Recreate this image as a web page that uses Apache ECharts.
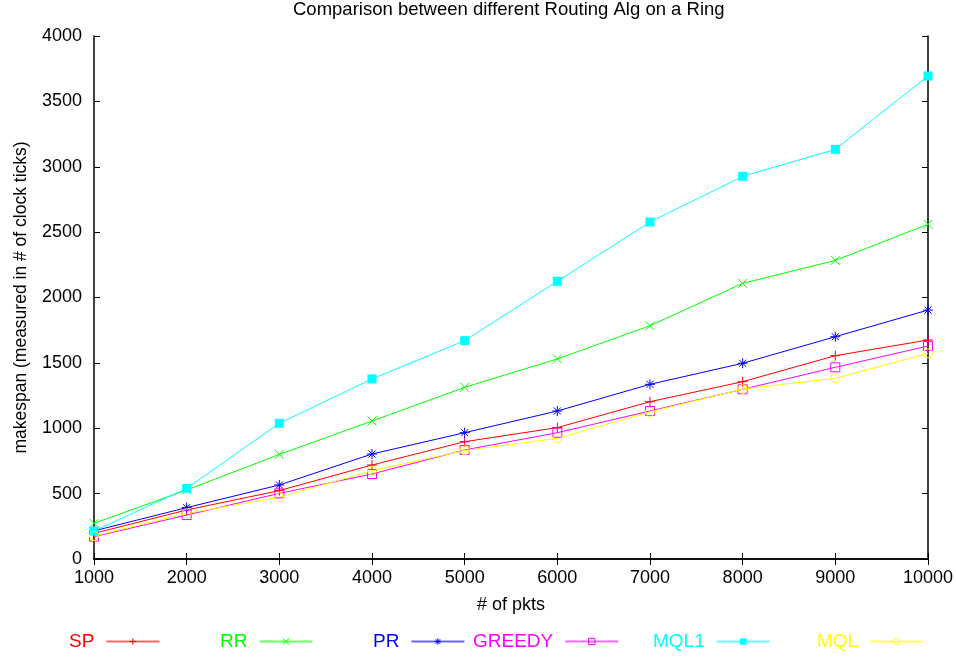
<!DOCTYPE html>
<html>
<head>
<meta charset="utf-8">
<script src="https://cdn.jsdelivr.net/npm/echarts@6/dist/echarts.min.js"></script>
<style>html,body{margin:0;padding:0;background:#fff}#c{width:956px;height:657px}</style>
</head>
<body>
<div id="c"></div>
<script>
const xValues = [1000, 2000, 3000, 4000, 5000, 6000, 7000, 8000, 9000, 10000];
const SP     = [196, 375, 523, 719, 897, 1005, 1203, 1356, 1555, 1675];
const RR     = [273, 528, 800, 1055, 1313, 1530, 1784, 2108, 2284, 2560];
const PR     = [215, 393, 566, 803, 966, 1132, 1336, 1497, 1700, 1904];
const GREEDY = [171, 336, 502, 650, 834, 966, 1132, 1298, 1466, 1629];
const MQL1   = [214, 540, 1038, 1377, 1670, 2124, 2577, 2927, 3133, 3694];
const MQL    = [176, 349, 472, 675, 830, 923, 1125, 1300, 1382, 1573];
const seriesNames = ['SP', 'RR', 'PR', 'GREEDY', 'MQL1', 'MQL'];
const seriesData = [SP, RR, PR, GREEDY, MQL1, MQL];

const colors = ['#ff0000', '#00ff00', '#0000ff', '#ff00ff', '#00ffff', '#ffff00'];
const symbols = [
  'path://M0,-5L0,5M-5,0L5,0',
  'path://M-5,-5L5,5M-5,5L5,-5',
  'path://M0,-5L0,5M-5,0L5,0M-3.5,-3.5L3.5,3.5M-3.5,3.5L3.5,-3.5',
  'path://M-5,-5L5,-5L5,5L-5,5Z',
  'rect',
  'path://M5,0A5,5,0,1,1,-5,0A5,5,0,1,1,5,0Z'
];
const filled = [false, false, false, false, true, false];
const symSizes = [10, 9, 10, 9, 9, 9];
const legendLeft = [69, 220, 373, 473, 653, 817];
const FONT = 'Liberation Sans, Arial, sans-serif';

const chart = echarts.init(document.getElementById('c'), null, {renderer: 'canvas'});
const series = seriesNames.map((name, i) => ({
  name: name,
  type: 'line',
  data: xValues.map((x, j) => [x, seriesData[i][j]]),
  symbol: symbols[i],
  symbolSize: symSizes[i],
  showAllSymbol: true,
  lineStyle: {color: colors[i], width: 1},
  itemStyle: {
    color: filled[i] ? colors[i] : 'rgba(255,255,255,0)',
    borderColor: colors[i],
    borderWidth: filled[i] ? 0 : 1
  },
  emphasis: {disabled: true},
  animation: false
}));

const legends = seriesNames.map((name, i) => ({
  data: [{name: name, itemStyle: {color: filled[i] ? colors[i] : 'rgba(255,255,255,0)', borderColor: colors[i], borderWidth: filled[i] ? 0 : 1}, lineStyle: {color: colors[i], width: 2, opacity: 0.6}}],
  left: legendLeft[i],
  top: 632,
  align: 'right',
  itemWidth: 53,
  itemHeight: 8,
  padding: 0,
  selectedMode: false,
  textStyle: {color: colors[i], fontSize: 19, fontFamily: FONT, padding: [0, 7, 0, 0]}
}));

const axisCommon = {
  type: 'value',
  axisLine: {show: true, lineStyle: {color: '#000', width: 1.5}},
  axisTick: {show: true, inside: true, length: 6, lineStyle: {color: '#000', width: 1}},
  splitLine: {show: false}
};
const plain = v => String(v);

chart.setOption({
  backgroundColor: '#fff',
  animation: false,
  title: {
    text: 'Comparison between different Routing Alg on a Ring',
    left: 293,
    top: 0,
    padding: 0,
    textStyle: {fontSize: 18.5, fontWeight: 'normal', color: '#000', fontFamily: FONT}
  },
  legend: legends,
  grid: {left: 94, right: 27, top: 36, bottom: 98, containLabel: false},
  xAxis: [
    Object.assign({}, axisCommon, {
      min: 1000, max: 10000, interval: 1000, position: 'bottom',
      name: '# of pkts', nameLocation: 'middle', nameGap: 37,
      nameTextStyle: {fontSize: 18, color: '#000', fontFamily: FONT},
      axisLabel: {fontSize: 18, color: '#000', margin: 10, fontFamily: FONT, formatter: plain}
    }),
    Object.assign({}, axisCommon, {
      min: 1000, max: 10000, interval: 1000, position: 'top',
      axisLabel: {show: false}
    })
  ],
  yAxis: [
    Object.assign({}, axisCommon, {
      min: 0, max: 4000, interval: 500, position: 'left',
      name: 'makespan (measured in # of clock ticks)', nameLocation: 'middle', nameGap: 64,
      nameRotate: 90,
      nameTextStyle: {fontSize: 17.5, color: '#000', fontFamily: FONT},
      axisLabel: {fontSize: 18, color: '#000', margin: 12, fontFamily: FONT, formatter: plain}
    }),
    Object.assign({}, axisCommon, {
      min: 0, max: 4000, interval: 500, position: 'right',
      axisLabel: {show: false}
    })
  ],
  series: series
});
</script>
</body>
</html>
